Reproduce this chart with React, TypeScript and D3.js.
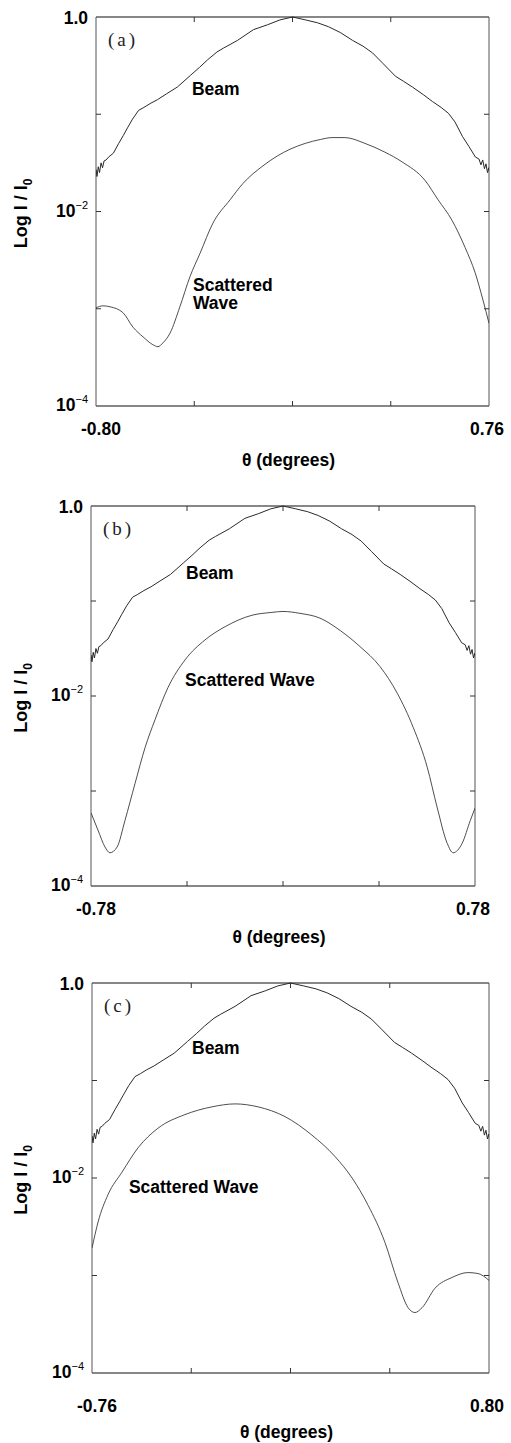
import React from 'react';
import * as d3 from 'd3';

type Pt = [number, number]; // [theta in degrees, log10(I / I0)]

// beam profile, theta measured from the beam centre (same beam in all three panels)
const beamProfile: Pt[] = [
  [-0.785, -1.66], [-0.780, -1.57], [-0.776, -1.64], [-0.771, -1.54], [-0.766, -1.60],
  [-0.760, -1.50], [-0.754, -1.55], [-0.748, -1.48], [-0.740, -1.47], [-0.730, -1.44],
  [-0.711, -1.40], [-0.690, -1.30], [-0.672, -1.22], [-0.655, -1.14], [-0.635, -1.05],
  [-0.611, -0.96], [-0.590, -0.93], [-0.565, -0.89], [-0.536, -0.85], [-0.500, -0.79],
  [-0.457, -0.72], [-0.405, -0.60], [-0.370, -0.52], [-0.337, -0.44], [-0.300, -0.36],
  [-0.274, -0.32], [-0.218, -0.24], [-0.155, -0.13], [-0.099, -0.08], [-0.050, -0.03],
  [0.000, 0.00], [0.052, -0.03], [0.100, -0.06], [0.143, -0.10], [0.190, -0.16],
  [0.238, -0.24], [0.280, -0.30], [0.318, -0.37], [0.360, -0.48], [0.409, -0.61],
  [0.440, -0.66], [0.476, -0.72], [0.520, -0.80], [0.556, -0.87], [0.590, -0.93],
  [0.619, -0.99], [0.645, -1.08], [0.675, -1.23], [0.700, -1.33], [0.726, -1.44],
  [0.740, -1.46], [0.748, -1.52], [0.755, -1.47], [0.762, -1.56], [0.768, -1.51],
  [0.774, -1.60], [0.779, -1.55], [0.785, -1.64],
];

const scatteredA: Pt[] = [
  [-0.800, -2.99], [-0.772, -2.97], [-0.744, -2.98], [-0.693, -3.04], [-0.653, -3.19],
  [-0.613, -3.29], [-0.574, -3.37], [-0.554, -3.39], [-0.534, -3.35], [-0.506, -3.25],
  [-0.467, -2.98], [-0.427, -2.67], [-0.387, -2.43], [-0.336, -2.12], [-0.268, -1.88],
  [-0.216, -1.71], [-0.137, -1.53], [-0.081, -1.43], [-0.030, -1.36], [0.030, -1.30],
  [0.090, -1.26], [0.137, -1.24], [0.188, -1.24], [0.268, -1.30], [0.347, -1.39],
  [0.415, -1.49], [0.506, -1.68], [0.558, -1.88], [0.613, -2.09], [0.665, -2.37],
  [0.705, -2.63], [0.736, -2.91], [0.760, -3.15],
];

const scatteredB: Pt[] = [
  [-0.780, -3.23], [-0.752, -3.41], [-0.723, -3.59], [-0.703, -3.65], [-0.674, -3.59],
  [-0.642, -3.31], [-0.601, -2.92], [-0.560, -2.54], [-0.520, -2.25], [-0.467, -1.91],
  [-0.398, -1.62], [-0.317, -1.41], [-0.235, -1.27], [-0.126, -1.15], [-0.045, -1.12],
  [0.000, -1.11], [0.069, -1.13], [0.150, -1.18], [0.232, -1.31], [0.313, -1.48],
  [0.394, -1.69], [0.464, -1.97], [0.529, -2.33], [0.586, -2.75], [0.626, -3.17],
  [0.667, -3.55], [0.691, -3.65], [0.728, -3.55], [0.761, -3.31], [0.780, -3.18],
];

const scatteredC: Pt[] = [
  [-0.760, -2.72], [-0.736, -2.45], [-0.697, -2.17], [-0.642, -1.94], [-0.579, -1.69],
  [-0.501, -1.49], [-0.395, -1.35], [-0.288, -1.27], [-0.198, -1.24], [-0.108, -1.27],
  [-0.002, -1.37], [0.104, -1.56], [0.195, -1.78], [0.262, -2.00], [0.325, -2.28],
  [0.391, -2.66], [0.442, -3.07], [0.482, -3.33], [0.509, -3.38], [0.537, -3.33],
  [0.588, -3.13], [0.655, -3.02], [0.717, -2.97], [0.757, -2.98], [0.800, -3.05],
];

const scatteredSeries = [scatteredA, scatteredB, scatteredC];
const panelLetters = ['(a)', '(b)', '(c)'];
const thetaDomains: [number, number][] = [[-0.8, 0.76], [-0.78, 0.78], [-0.76, 0.8]];
const beamCenters = [-0.02, 0, 0.02];
const decadeTicks = [1e-4, 1e-3, 1e-2, 1e-1, 1];
const labelledDecades = [1, 1e-2, 1e-4];
const waveLabelLines = [['Scattered', 'Wave'], ['Scattered Wave'], ['Scattered Wave']];

// pixel boxes of the three panels
const layouts = [
  { left: 96, right: 489, top: 17, bottom: 406, tickDy: 29, titleDy: 60 },
  { left: 91, right: 475, top: 506, bottom: 886, tickDy: 29, titleDy: 57 },
  { left: 92, right: 489, top: 983, bottom: 1373, tickDy: 39, titleDy: 65 },
];
// annotation anchors in data units [theta, log10 I]
const beamLabelAt: Pt[] = [[-0.419, -0.8], [-0.394, -0.77], [-0.367, -0.73]];
const waveLabelAt: Pt[] = [[-0.415, -2.82], [-0.398, -1.89], [-0.615, -2.15]];

const SANS = '"Liberation Sans", Arial, Helvetica, sans-serif';
const TICK = 5;

const Panel: React.FC<{ i: number }> = ({ i }) => {
  const L = layouts[i];
  const [d0, d1] = thetaDomains[i];
  const x = d3.scaleLinear().domain([d0, d1]).range([L.left, L.right]);
  const y = d3.scaleLog().domain([1e-4, 1]).range([L.bottom, L.top]);
  const line = d3.line<Pt>().x(d => x(d[0])).y(d => y(Math.pow(10, d[1])));

  const beam: Pt[] = beamProfile.map(([t, v]) => [t + beamCenters[i], v]);
  const xTicks = d3.range(5).map(k => d0 + (k * (d1 - d0)) / 4);
  const clipId = `clip-${i}`;
  const fmtY = (v: number) => {
    if (v === 1) return { base: '1.0', exp: '' };
    return { base: '10', exp: `\u2212${Math.round(-Math.log10(v))}` };
  };

  return (
    <g>
      <defs>
        <clipPath id={clipId}>
          <rect x={L.left} y={L.top - 1} width={L.right - L.left} height={L.bottom - L.top + 1} />
        </clipPath>
      </defs>

      {/* frame */}
      <line x1={L.left} x2={L.right} y1={L.top} y2={L.top} stroke="#111" strokeWidth={1.2} />
      <line x1={L.left} x2={L.right} y1={L.bottom} y2={L.bottom} stroke="#111" strokeWidth={1.2} />
      <line x1={L.left} x2={L.left} y1={L.top} y2={L.bottom} stroke="#555" strokeWidth={1} />
      <line x1={L.right} x2={L.right} y1={L.top} y2={L.bottom} stroke="#555" strokeWidth={1} />

      {/* inward ticks */}
      {xTicks.slice(1, -1).map(t => (
        <g key={`xt${t}`} stroke="#333" strokeWidth={1}>
          <line x1={x(t)} x2={x(t)} y1={L.bottom} y2={L.bottom - TICK} />
          <line x1={x(t)} x2={x(t)} y1={L.top} y2={L.top + TICK} />
        </g>
      ))}
      {decadeTicks.slice(1, -1).map(v => (
        <g key={`yt${v}`} stroke="#333" strokeWidth={1}>
          <line x1={L.left} x2={L.left + TICK} y1={y(v)} y2={y(v)} />
          <line x1={L.right} x2={L.right - TICK} y1={y(v)} y2={y(v)} />
        </g>
      ))}

      {/* curves */}
      <g clipPath={`url(#${clipId})`} fill="none" strokeLinejoin="round">
        <path d={line.curve(d3.curveLinear)(beam) || ''} stroke="#2a2a2a" strokeWidth={1} />
        <path
          d={line.curve(d3.curveMonotoneX)(scatteredSeries[i]) || ''}
          stroke="#3a3a3a"
          strokeWidth={0.9}
        />
      </g>

      {/* y tick labels */}
      {labelledDecades.map(v => {
        const f = fmtY(v);
        return (
          <text
            key={`yl${v}`}
            x={L.left - 8}
            y={y(v) + (f.exp ? 5 : 7)}
            textAnchor="end"
            fontFamily={SANS}
            fontWeight="bold"
            fontSize={17.5}
          >
            {f.base}
            {f.exp && (
              <tspan dy={-8} fontSize={11} fontWeight="normal">
                {f.exp}
              </tspan>
            )}
          </text>
        );
      })}

      {/* x tick labels at the ends */}
      <text x={L.left + 5} y={L.bottom + L.tickDy} textAnchor="middle" fontFamily={SANS} fontWeight="bold" fontSize={17.5}>
        {d0.toFixed(2)}
      </text>
      <text x={L.right - 2} y={L.bottom + L.tickDy} textAnchor="middle" fontFamily={SANS} fontWeight="bold" fontSize={17.5}>
        {d1.toFixed(2)}
      </text>

      {/* axis titles */}
      <text
        x={(L.left + L.right) / 2 - 4}
        y={L.bottom + L.titleDy}
        textAnchor="middle"
        fontFamily={SANS}
        fontWeight="bold"
        fontSize={17.5}
      >
        {'\u03b8 (degrees)'}
      </text>
      <text
        transform={`translate(27,${(L.top + L.bottom) / 2 + 2}) rotate(-90)`}
        textAnchor="middle"
        fontFamily={SANS}
        fontWeight="bold"
        fontSize={18}
      >
        Log I / I
        <tspan dy={5} fontSize={12}>0</tspan>
      </text>

      {/* panel letter */}
      <text
        x={L.left + 12}
        y={L.top + 29}
        fontFamily={'"Liberation Serif", "Times New Roman", serif'}
        fontSize={19}
        letterSpacing={3}
        fill="#222"
      >
        {panelLetters[i]}
      </text>

      {/* curve annotations */}
      <text
        x={x(beamLabelAt[i][0])}
        y={y(Math.pow(10, beamLabelAt[i][1]))}
        fontFamily={SANS}
        fontWeight="bold"
        fontSize={17.5}
      >
        Beam
      </text>
      <text
        x={x(waveLabelAt[i][0])}
        y={y(Math.pow(10, waveLabelAt[i][1]))}
        fontFamily={SANS}
        fontWeight="bold"
        fontSize={17.5}
      >
        {waveLabelLines[i].map((s, k) => (
          <tspan key={s} x={x(waveLabelAt[i][0])} dy={k === 0 ? 0 : 18}>
            {s}
          </tspan>
        ))}
      </text>
    </g>
  );
};

const App: React.FC = () => (
  <svg
    width={511}
    height={1443}
    viewBox="0 0 511 1443"
    style={{ position: 'absolute', left: 0, top: 0, background: '#fff' }}
  >
    <rect width={511} height={1443} fill="#fff" />
    {layouts.map((_, i) => (
      <Panel key={i} i={i} />
    ))}
  </svg>
);

export default App;
